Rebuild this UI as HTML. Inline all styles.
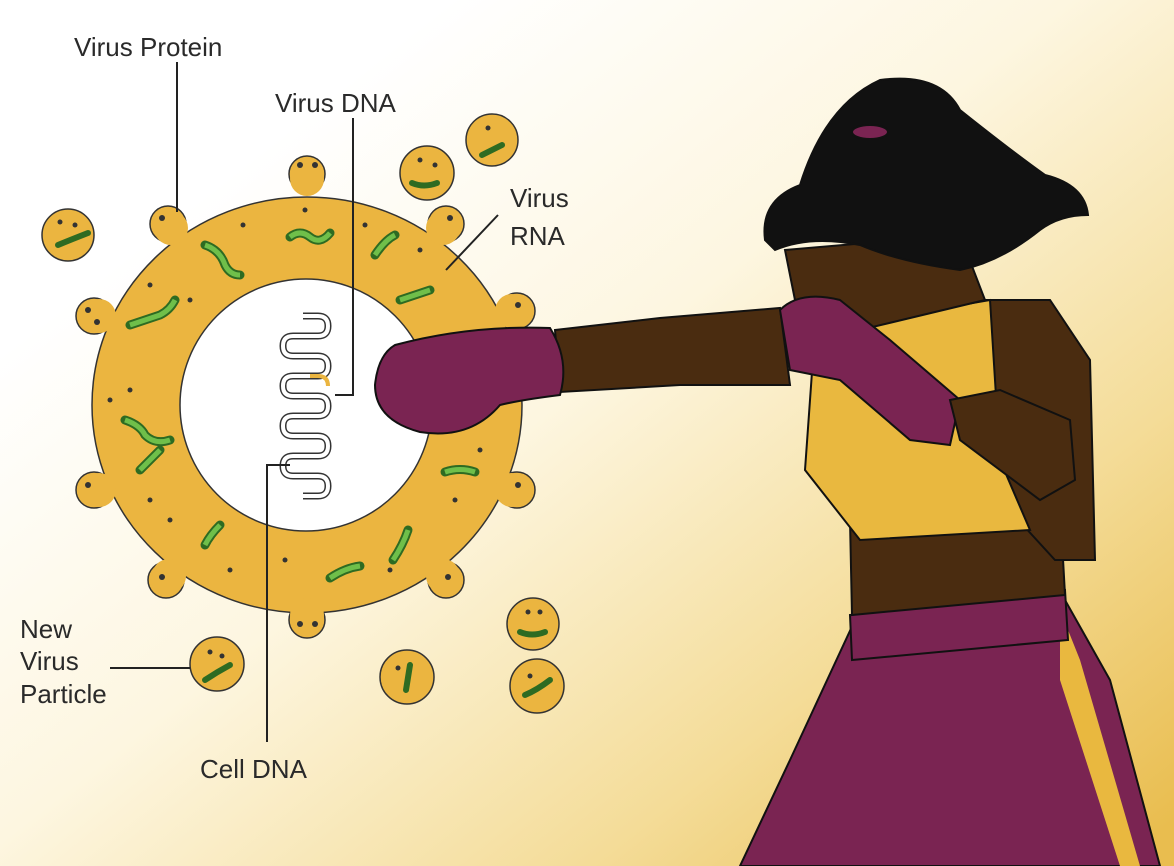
<!DOCTYPE html>
<html><head><meta charset="utf-8"><style>
html,body{margin:0;padding:0;width:1174px;height:866px;overflow:hidden}
svg{display:block}
text{font-family:"Liberation Sans",sans-serif;font-size:26px;fill:#2a2a2a}
</style></head><body>
<svg width="1174" height="866" viewBox="0 0 1174 866">
<defs>
<linearGradient id="bg" x1="0.15" y1="0.25" x2="0.95" y2="1">
<stop offset="0" stop-color="#ffffff"/>
<stop offset="0.35" stop-color="#fdf6e0"/>
<stop offset="0.7" stop-color="#f4dc98"/>
<stop offset="1" stop-color="#e9bd4f"/>
</linearGradient>
</defs>
<rect width="1174" height="866" fill="url(#bg)"/>

<g fill="#ebb540" stroke="#333" stroke-width="1.5">
<circle cx="307" cy="174" r="18"/><circle cx="168" cy="224" r="18"/><circle cx="446" cy="224" r="18"/>
<circle cx="94" cy="316" r="18"/><circle cx="517" cy="311" r="18"/><circle cx="94" cy="490" r="18"/>
<circle cx="517" cy="490" r="18"/><circle cx="166" cy="580" r="18"/><circle cx="446" cy="580" r="18"/>
<circle cx="307" cy="620" r="18"/>
</g>
<ellipse cx="307" cy="405" rx="215" ry="208" fill="#ebb540" stroke="#333" stroke-width="1.5"/>
<g fill="#ebb540">
<circle cx="307" cy="179" r="17"/><circle cx="171" cy="228" r="17"/><circle cx="443" cy="228" r="17"/>
<circle cx="99" cy="316" r="17"/><circle cx="512" cy="311" r="17"/><circle cx="99" cy="490" r="17"/>
<circle cx="512" cy="490" r="17"/><circle cx="169" cy="576" r="17"/><circle cx="443" cy="576" r="17"/>
<circle cx="307" cy="615" r="17"/>
</g>
<circle cx="306" cy="405" r="126" fill="#fff" stroke="#333" stroke-width="1.5"/>
<g fill="#333">
<circle cx="300" cy="165" r="3"/><circle cx="315" cy="165" r="3"/><circle cx="162" cy="218" r="3"/><circle cx="450" cy="218" r="3"/>
<circle cx="88" cy="310" r="3"/><circle cx="97" cy="322" r="3"/><circle cx="518" cy="305" r="3"/><circle cx="88" cy="485" r="3"/>
<circle cx="518" cy="485" r="3"/><circle cx="162" cy="577" r="3"/><circle cx="448" cy="577" r="3"/><circle cx="300" cy="624" r="3"/><circle cx="315" cy="624" r="3"/>
<circle cx="305" cy="210" r="2.5"/><circle cx="243" cy="225" r="2.5"/><circle cx="190" cy="300" r="2.5"/><circle cx="150" cy="285" r="2.5"/>
<circle cx="130" cy="390" r="2.5"/><circle cx="110" cy="400" r="2.5"/><circle cx="150" cy="500" r="2.5"/><circle cx="170" cy="520" r="2.5"/>
<circle cx="230" cy="570" r="2.5"/><circle cx="285" cy="560" r="2.5"/><circle cx="390" cy="570" r="2.5"/><circle cx="480" cy="450" r="2.5"/>
<circle cx="470" cy="420" r="2.5"/><circle cx="420" cy="250" r="2.5"/><circle cx="365" cy="225" r="2.5"/><circle cx="455" cy="500" r="2.5"/>
</g>
<g fill="none" stroke="#2e6b22" stroke-width="9" stroke-linecap="round"><g id="sq">
<path d="M290 237 q10 -8 20 0 q10 8 20 -4"/><path d="M205 245 q15 5 20 20 q5 10 15 10"/><path d="M375 255 q10 -15 20 -20"/>
<path d="M130 325 q15 -5 30 -10 q10 -5 15 -15"/><path d="M400 300 q15 -5 30 -10"/><path d="M125 420 q15 5 20 15 q10 10 25 5"/>
<path d="M140 470 q10 -10 20 -20"/><path d="M205 545 q5 -10 15 -20"/><path d="M330 578 q15 -10 30 -12"/><path d="M393 560 q10 -15 15 -30"/>
<path d="M445 472 q15 -5 30 0"/>
</g></g>
<use href="#sq" stroke="#6fbf4a" stroke-width="5" fill="none"/>
<path d="M303 316 h15 q10 0 10 10 t-10 10 h-25 q-10 0 -10 10 t10 10 h25 q10 0 10 10 t-10 10 h-25 q-10 0 -10 10 t10 10 h25 q10 0 10 10 t-10 10 h-25 q-10 0 -10 10 t10 10 h25 q10 0 10 10 t-10 10 h-25 q-10 0 -10 10 t10 10 h25 q10 0 10 10 t-10 10 h-15" fill="none" stroke="#333" stroke-width="7"/>
<path d="M303 316 h15 q10 0 10 10 t-10 10 h-25 q-10 0 -10 10 t10 10 h25 q10 0 10 10 t-10 10 h-25 q-10 0 -10 10 t10 10 h25 q10 0 10 10 t-10 10 h-25 q-10 0 -10 10 t10 10 h25 q10 0 10 10 t-10 10 h-25 q-10 0 -10 10 t10 10 h25 q10 0 10 10 t-10 10 h-15" fill="none" stroke="#fff" stroke-width="4"/>
<path d="M310 376 h8 q10 0 10 10" fill="none" stroke="#ebb540" stroke-width="4"/>

<g fill="#ebb540" stroke="#333" stroke-width="1.5">
<circle cx="68" cy="235" r="26"/><circle cx="427" cy="173" r="27"/><circle cx="492" cy="140" r="26"/>
<circle cx="533" cy="624" r="26"/><circle cx="537" cy="686" r="27"/><circle cx="407" cy="677" r="27"/><circle cx="217" cy="664" r="27"/>
</g>
<g fill="#333">
<circle cx="60" cy="222" r="2.5"/><circle cx="75" cy="225" r="2.5"/><circle cx="420" cy="160" r="2.5"/><circle cx="435" cy="165" r="2.5"/>
<circle cx="488" cy="128" r="2.5"/><circle cx="528" cy="612" r="2.5"/><circle cx="540" cy="612" r="2.5"/><circle cx="530" cy="676" r="2.5"/>
<circle cx="398" cy="668" r="2.5"/><circle cx="210" cy="652" r="2.5"/><circle cx="222" cy="656" r="2.5"/>
</g>
<g fill="none" stroke="#2e6b22" stroke-width="6" stroke-linecap="round">
<path d="M58 245 q12 -5 30 -12"/><path d="M412 183 q12 5 25 0"/><path d="M482 155 q10 -5 20 -10"/>
<path d="M520 632 q12 5 25 0"/><path d="M525 695 q12 -5 25 -15"/><path d="M410 665 l-4 25"/><path d="M205 680 q12 -8 25 -15"/>
</g>

<g stroke="#222" stroke-width="2" fill="none">
<path d="M177 62 V212"/>
<path d="M353 118 V395 H335"/>
<path d="M267 742 V465 H290"/>
<path d="M498 215 L446 270"/>
<path d="M110 668 H190"/>
</g>
<text x="74" y="56">Virus Protein</text>
<text x="275" y="112">Virus DNA</text>
<text x="510" y="207">Virus</text>
<text x="510" y="245">RNA</text>
<text x="20" y="638">New</text>
<text x="20" y="670">Virus</text>
<text x="20" y="703">Particle</text>
<text x="200" y="778">Cell DNA</text>

<g stroke="#111" stroke-width="2">
<path d="M855 620 L1065 600 L1110 680 L1160 866 L740 866 L790 760 Z" fill="#7a2452"/>
<path d="M1060 610 L1080 660 L1140 866 L1120 866 L1060 680 Z" fill="#e9b83f" stroke="none"/>
<path d="M850 615 L1065 590 L1068 640 L852 660 Z" fill="#7a2452"/>
<path d="M850 520 L1060 505 L1065 595 L852 615 Z" fill="#4a2c10"/>
<path d="M960 300 L1050 300 L1090 360 L1095 560 L1055 560 L1000 500 L960 400 Z" fill="#4a2c10"/>
<path d="M815 330 L990 300 L1000 460 L1030 530 L860 540 L805 470 Z" fill="#e9b83f"/>
<path d="M785 250 L960 235 L985 300 L860 330 L795 300 Z" fill="#4a2c10"/>
<path d="M765 240 Q760 200 800 185 Q825 105 880 80 Q940 72 960 110 Q1010 150 1045 175 Q1085 185 1088 215 Q1060 215 1040 230 Q1000 262 960 270 Q900 262 860 245 Q810 235 775 250 Z" fill="#111"/>
<ellipse cx="870" cy="132" rx="18" ry="7" fill="#7a2452"/>
<path d="M555 330 L660 318 L780 308 L790 385 L680 385 L560 392 Z" fill="#4a2c10"/>
<path d="M395 345 Q470 325 550 328 Q570 360 560 395 Q520 400 500 405 Q470 440 420 432 Q375 420 375 385 Q378 355 395 345 Z" fill="#7a2452"/>
<path d="M780 310 Q800 290 840 300 L890 340 L960 400 L950 445 L910 440 L840 380 L790 370 Z" fill="#7a2452"/>
<path d="M950 400 L1000 390 L1070 420 L1075 480 L1040 500 L960 440 Z" fill="#4a2c10"/>
</g>
</svg>
</body></html>
